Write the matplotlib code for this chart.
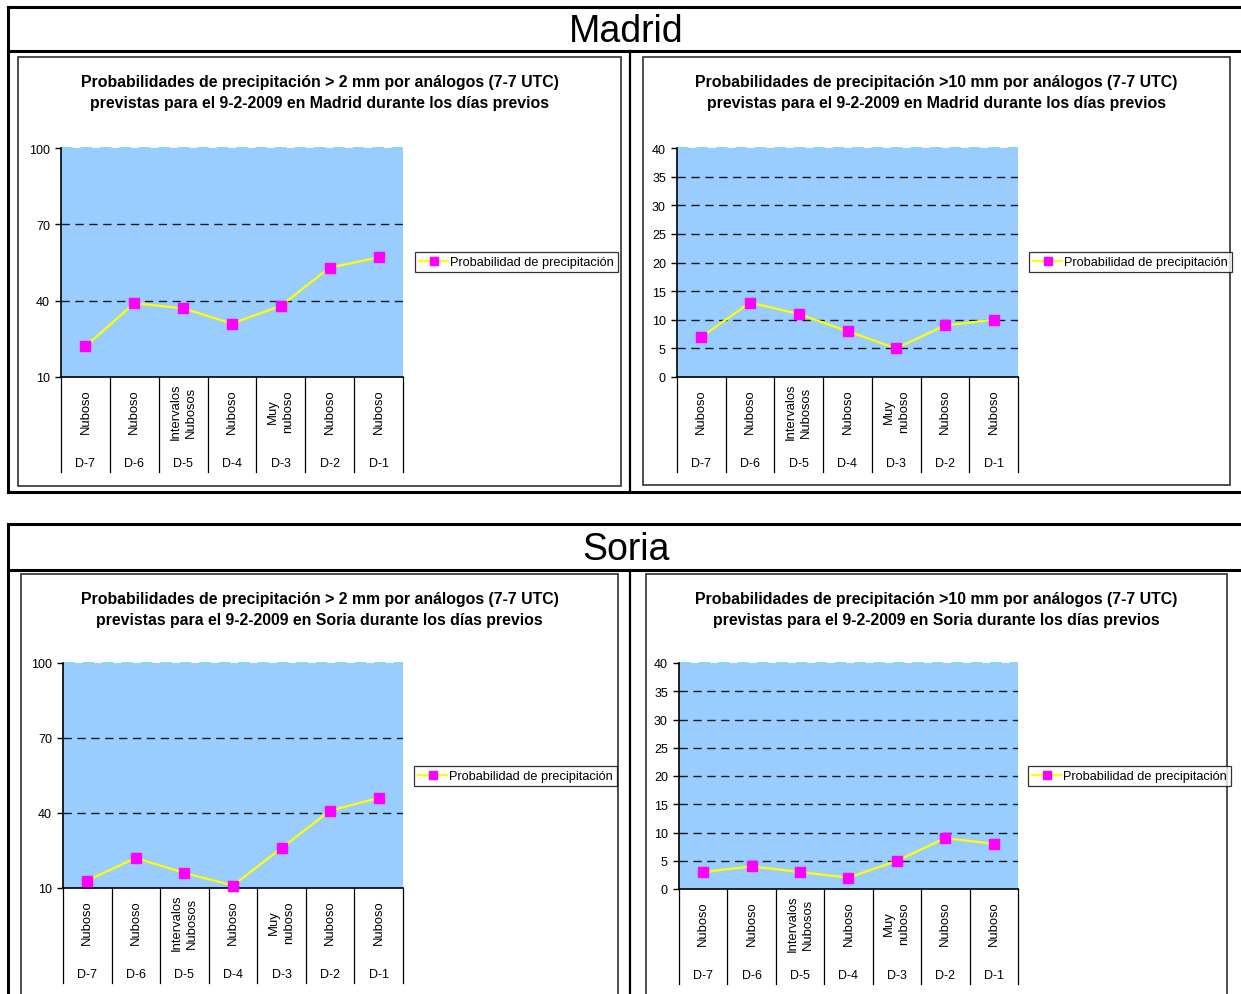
import matplotlib
matplotlib.use("Agg")
import matplotlib.pyplot as plt
from matplotlib.lines import Line2D
from matplotlib.patches import Rectangle
from matplotlib import transforms

plt.rcParams['font.family'] = ['Liberation Sans', 'DejaVu Sans']

# ---- data -------------------------------------------------------------
days = ["D-7", "D-6", "D-5", "D-4", "D-3", "D-2", "D-1"]
sky = ["Nuboso", "Nuboso", "Intervalos\nNubosos", "Nuboso",
       "Muy\nnuboso", "Nuboso", "Nuboso"]

madrid_2mm = [22, 39, 37, 31, 38, 53, 57]
madrid_10mm = [7, 13, 11, 8, 5, 9, 10]
soria_2mm = [13, 22, 16, 11, 26, 41, 46]
soria_10mm = [3, 4, 3, 2, 5, 9, 8]

ticks_2mm = [10, 40, 70, 100]
ticks_10mm = [0, 5, 10, 15, 20, 25, 30, 35, 40]

legend_label = "Probabilidad de precipitación"
title_2mm = ("Probabilidades de precipitación > 2 mm por análogos (7-7 UTC)\n"
             "previstas para el 9-2-2009 en {} durante los días previos")
title_10mm = ("Probabilidades de precipitación >10 mm por análogos (7-7 UTC)\n"
              "previstas para el 9-2-2009 en {} durante los días previos")

# ---- canvas -----------------------------------------------------------
W, H = 1241, 995
fig = plt.figure(figsize=(W / 100, H / 100), dpi=100)
fig.patch.set_facecolor('white')


def fx(x):
    return x / W


def fy(y):
    return 1 - y / H


def seg(x0, y0, x1, y1, **kw):
    fig.add_artist(Line2D([fx(x0), fx(x1)], [fy(y0), fy(y1)], **kw))


# outer section frames with their headers
for top, sep, name, bottom in [(8, 52, "Madrid", 493), (525, 571, "Soria", 1000)]:
    kw = dict(color='black', lw=2.2, solid_capstyle='projecting')
    seg(8, top, 1245, top, **kw)
    seg(8, sep, 1245, sep, **kw)
    seg(8, top, 8, bottom, **kw)
    if bottom < H:
        seg(8, bottom, 1245, bottom, **kw)
    seg(630, sep, 630, bottom, color='black', lw=1.6)
    fig.text(fx(626), fy((top + sep) / 2 + 2), name, fontsize=27,
             ha='center', va='center')

# chart panels: frame box, plot box, legend anchor
panels = [
    dict(frame=(18, 58, 621, 487), plot=(61, 149, 403, 378), leg=(415, 263),
         vals=madrid_2mm, ticks=ticks_2mm, title=title_2mm.format("Madrid")),
    dict(frame=(643, 58, 1230, 486), plot=(677, 149, 1018, 378), leg=(1029, 263),
         vals=madrid_10mm, ticks=ticks_10mm, title=title_10mm.format("Madrid")),
    dict(frame=(21, 575, 618, 1010), plot=(63, 664, 403, 889), leg=(414, 777),
         vals=soria_2mm, ticks=ticks_2mm, title=title_2mm.format("Soria")),
    dict(frame=(646, 575, 1227, 1010), plot=(679, 664, 1018, 890), leg=(1028, 777),
         vals=soria_10mm, ticks=ticks_10mm, title=title_10mm.format("Soria")),
]

for p in panels:
    f0x, f0y, f1x, f1y = p['frame']
    fig.add_artist(Rectangle((fx(f0x), fy(f1y)), (f1x - f0x) / W, (f1y - f0y) / H,
                             transform=fig.transFigure, fill=False,
                             edgecolor='#303030', lw=1.2))
    fig.text(fx((f0x + f1x) / 2), fy(f0y + 35), p['title'], fontsize=11.4,
             fontweight='bold', ha='center', va='center', linespacing=1.55)

    x0, y0, x1, y1 = p['plot']
    ax = fig.add_axes([fx(x0), fy(y1), (x1 - x0) / W, (y1 - y0) / H])
    ax.set_facecolor('#99CCFF')
    ticks = p['ticks']
    ax.set_xlim(-0.5, len(days) - 0.5)
    ax.set_ylim(ticks[0], ticks[-1])

    for t in ticks[1:-1]:
        ax.axhline(t, color='#1a1a1a', lw=1.0, ls=(0, (6, 4)), zorder=1)
    ax.axhline(ticks[-1], color='#8fd6de', lw=1.4, ls=(0, (6, 4)), zorder=1,
               clip_on=False)

    line, = ax.plot(range(len(days)), p['vals'], color='#FFFF00', lw=1.6,
                    marker='s', ms=7.2, mfc='#FF00FF', mec='#FF00FF',
                    zorder=4, clip_on=False, label=legend_label)

    for side in ('top', 'right'):
        ax.spines[side].set_visible(False)
    for side in ('left', 'bottom'):
        ax.spines[side].set_color('black')
        ax.spines[side].set_linewidth(1.2)
    ax.set_yticks(ticks)
    ax.set_yticklabels([str(t) for t in ticks])
    ax.tick_params(axis='y', direction='out', length=4, width=1, pad=4,
                   labelsize=9, color='black')
    ax.set_xticks([])

    # two-level category axis below the plot
    blend = transforms.blended_transform_factory(ax.transData, fig.transFigure)
    sep_bottom = y1 + 95
    for i in range(len(days) + 1):
        fig.add_artist(Line2D([i - 0.5, i - 0.5], [fy(y1), fy(sep_bottom)],
                              transform=blend, color='black', lw=0.9))
    for i, (s, d) in enumerate(zip(sky, days)):
        fig.text(i, fy(y1 + 34), s, transform=blend, rotation=90, fontsize=9.4,
                 ha='center', va='center', multialignment='center',
                 linespacing=1.35)
        fig.text(i, fy(y1 + 86), d, transform=blend, fontsize=9,
                 ha='center', va='center')

    handle = Line2D([], [], color='#FFFF00', lw=1.6, marker='s', ms=6,
                    mfc='#FF00FF', mec='#FF00FF')
    lx, ly = p['leg']
    leg = fig.legend([handle], [legend_label], loc='center left',
                     bbox_to_anchor=(fx(lx), fy(ly)), bbox_transform=fig.transFigure,
                     fontsize=9.2, frameon=True, fancybox=False, shadow=False,
                     borderpad=0.35, borderaxespad=0, handlelength=2.2,
                     handletextpad=0.2)
    leg.get_frame().set_edgecolor('black')
    leg.get_frame().set_linewidth(0.9)

fig.savefig("out.png", dpi=100, facecolor='white')
